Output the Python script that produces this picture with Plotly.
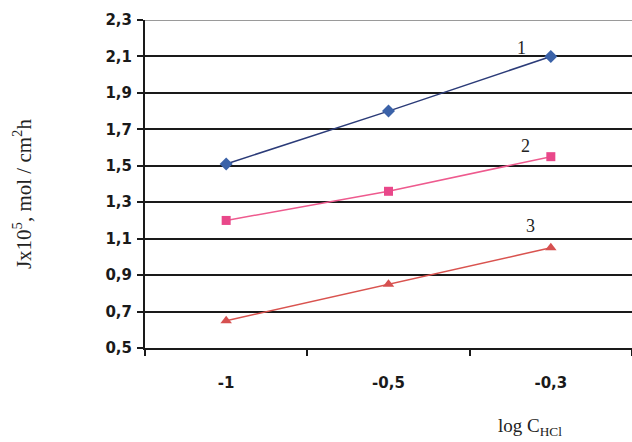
import plotly.graph_objects as go

categories = ["-1", "-0,5", "-0,3"]
series1 = [1.51, 1.80, 2.10]
series2 = [1.20, 1.36, 1.55]
series3 = [0.65, 0.85, 1.05]
y_ticks = [0.5, 0.7, 0.9, 1.1, 1.3, 1.5, 1.7, 1.9, 2.1, 2.3]
curve_labels = ["1", "2", "3"]

fig = go.Figure()
fig.add_trace(go.Scatter(x=categories, y=series1, mode="lines+markers",
                         line=dict(color="#2b3b78", width=1.5),
                         marker=dict(symbol="diamond", size=10, color="#3b62a8")))
fig.add_trace(go.Scatter(x=categories, y=series2, mode="lines+markers",
                         line=dict(color="#ee5a8e", width=1.5),
                         marker=dict(symbol="square", size=9, color="#e9488a")))
fig.add_trace(go.Scatter(x=categories, y=series3, mode="lines+markers",
                         line=dict(color="#d9534f", width=1.5),
                         marker=dict(symbol="triangle-up", size=10, color="#d65050")))

tick_font = dict(family="DejaVu Sans", size=15, color="#1a1a1a", weight="bold")
serif = "Liberation Serif"

fig.update_layout(
    width=632, height=442,
    margin=dict(l=145, r=0, t=20, b=94),
    paper_bgcolor="white", plot_bgcolor="white",
    showlegend=False,
    separators=", ",
    xaxis=dict(type="category", range=[-0.5, 2.5], tickson="boundaries",
               ticks="outside", ticklen=6, tickwidth=2, tickcolor="#1a1a1a",
               showgrid=False, showline=True, linecolor="#1a1a1a", linewidth=2,
               tickfont=tick_font, ticklabelstandoff=20, zeroline=False),
    yaxis=dict(range=[0.5, 2.3], tickvals=y_ticks, tickformat=".1f",
               ticks="outside", ticklen=6, tickwidth=2, tickcolor="#1a1a1a",
               showgrid=True, gridcolor="#1a1a1a", gridwidth=2,
               showline=True, linecolor="#1a1a1a", linewidth=2,
               tickfont=tick_font, ticklabelstandoff=2, zeroline=False),
    annotations=[
        dict(xref="paper", yref="paper", x=-0.25, y=0.47, xanchor="center",
             yanchor="middle", textangle=-90,
             text="Jx10<sup>5</sup>, mol / cm<sup>2</sup>h", showarrow=False,
             font=dict(family=serif, size=21, color="#222")),
        dict(xref="paper", yref="paper", x=0.79, y=-0.24, xanchor="center",
             yanchor="middle",
             text="log C<sub>HCl</sub>", showarrow=False,
             font=dict(family=serif, size=19, color="#222")),
        dict(x=categories[2], y=series1[2], text=curve_labels[0], showarrow=False,
             xshift=-29, yshift=8, font=dict(family=serif, size=18, color="#222")),
        dict(x=categories[2], y=series2[2], text=curve_labels[1], showarrow=False,
             xshift=-25, yshift=11, font=dict(family=serif, size=18, color="#222")),
        dict(x=categories[2], y=series3[2], text=curve_labels[2], showarrow=False,
             xshift=-20, yshift=22, font=dict(family=serif, size=18, color="#222")),
    ],
    shapes=[dict(type="line", xref="paper", yref="y", x0=0, x1=1,
                 y0=y_ticks[-1], y1=y_ticks[-1],
                 line=dict(color="#9a9a9a", width=2), layer="above")],
)

fig.write_html("out.html")
